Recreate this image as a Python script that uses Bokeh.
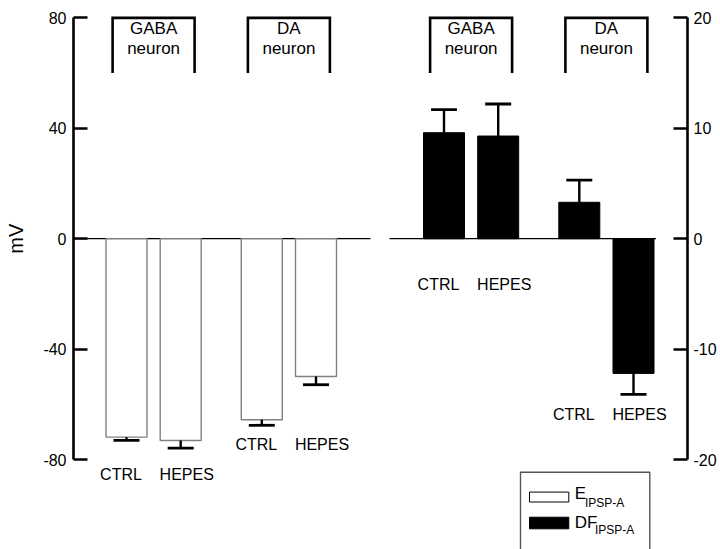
from bokeh.plotting import figure
from bokeh.layouts import row
from bokeh.models import Range1d, LinearAxis, FixedTicker, ColumnDataSource
from bokeh.core.properties import value
from bokeh.embed import file_html
from bokeh.resources import INLINE
import math

# ---------------- data ----------------
neurons = ["GABA", "DA"]
conditions = ["CTRL", "HEPES"]
# order: GABA CTRL, GABA HEPES, DA CTRL, DA HEPES
e_ipsp_mean = [-71.9, -73.1, -65.6, -49.9]      # mV (left axis)
e_ipsp_err = [1.2, 2.8, 2.0, 3.0]
df_ipsp_mean = [9.6, 9.3, 3.3, -12.2]           # mV (right axis)
df_ipsp_err = [2.1, 2.9, 2.0, 1.9]
left_ticks = [-80, -40, 0, 40, 80]
right_ticks = [-20, -10, 0, 10, 20]
legend_labels = [("E", "IPSP-A"), ("DF", "IPSP-A")]
y_title = "mV"

# ---------------- layout ----------------
FONT = value("Liberation Sans")
FRAME_W = 614
Y_LO, Y_HI = -112.6, 86.3
SCALE = 4.0                      # left units per right unit
TITLE_W = 40
panel_start = [53.0, 370.5]
group_step = 135.3
bar_step = 54.2
bar_w = 41
cap_w = 26
bracket_half = 41
label_y = [[-85.4, -74.7], [-16.7, -63.8]]   # per panel, per group (left units, text middle)

# narrow strip holding the y-axis title, sharing the mV scale
t = figure(width=TITLE_W, height=549, x_range=Range1d(0, TITLE_W), y_range=Range1d(Y_LO, Y_HI),
           output_backend="svg", toolbar_location=None, x_axis_type=None, y_axis_type=None,
           min_border=0)
t.outline_line_color = None
t.grid.visible = False
t.text(x=[15], y=[0], text=[y_title], angle=math.pi / 2, text_font=FONT, text_font_size="20px",
       text_align="center", text_baseline="middle", text_color="black")

p = figure(width=720 - TITLE_W, height=549, x_range=Range1d(0, FRAME_W), y_range=Range1d(Y_LO, Y_HI),
           output_backend="svg", toolbar_location=None, x_axis_type=None,
           min_border_left=73 - TITLE_W, min_border_right=33, min_border_top=0, min_border_bottom=0)
p.extra_y_ranges = {"right": Range1d(Y_LO / SCALE, Y_HI / SCALE)}
p.outline_line_color = None
p.grid.visible = False
p.background_fill_color = "white"
p.border_fill_color = "white"


def style_axis(ax, ticks):
    ax.ticker = FixedTicker(ticks=ticks)
    ax.bounds = (ticks[0], ticks[-1])
    ax.major_label_overrides = {float(tk): str(tk) for tk in ticks}
    ax.axis_line_width = 2.6
    ax.axis_line_color = "black"
    ax.major_tick_line_width = 2.6
    ax.major_tick_line_color = "black"
    ax.major_tick_in = 14
    ax.major_tick_out = 0
    ax.minor_tick_line_color = None
    ax.major_label_text_font = "Liberation Sans"
    ax.major_label_text_font_size = "16px"
    ax.major_label_text_color = "black"
    ax.major_label_standoff = 7


ly = p.yaxis[0]
style_axis(ly, left_ticks)

ry = LinearAxis(y_range_name="right")
style_axis(ry, right_ticks)
ry.major_label_standoff = 6
p.add_layout(ry, "right")

# bar positions
xs = []
for pi in range(2):
    for g in range(2):
        for c in range(2):
            xs.append(panel_start[pi] + g * group_step + c * bar_step)
left_x = xs[:4]
right_x = xs[4:]

# zero lines
p.segment(x0=[0, right_x[0] - bar_w / 2 - 34], x1=[left_x[3] + bar_w / 2 + 34, right_x[3] + bar_w / 2 + 2],
          y0=[0, 0], y1=[0, 0], line_color="black", line_width=1.2)

# left (E IPSP-A) white bars
src_e = ColumnDataSource(dict(x=left_x, top=[0] * 4, bottom=e_ipsp_mean))
p.vbar(x="x", top="top", bottom="bottom", width=bar_w, source=src_e,
       fill_color="white", line_color="#808080", line_width=1.4)
e_end = [m - e if m < 0 else m + e for m, e in zip(e_ipsp_mean, e_ipsp_err)]
p.segment(x0=left_x, x1=left_x, y0=e_ipsp_mean, y1=e_end, line_color="black", line_width=2.4)
p.segment(x0=[x - cap_w / 2 for x in left_x], x1=[x + cap_w / 2 for x in left_x],
          y0=e_end, y1=e_end, line_color="black", line_width=2.8)

# right (DF IPSP-A) black bars
src_d = ColumnDataSource(dict(x=right_x, top=[0] * 4, bottom=df_ipsp_mean))
p.vbar(x="x", top="top", bottom="bottom", width=bar_w, source=src_d, y_range_name="right",
       fill_color="black", line_color="black", line_width=1)
d_end = [m - e if m < 0 else m + e for m, e in zip(df_ipsp_mean, df_ipsp_err)]
p.segment(x0=right_x, x1=right_x, y0=df_ipsp_mean, y1=d_end, line_color="black", line_width=2.4,
          y_range_name="right")
p.segment(x0=[x - cap_w / 2 for x in right_x], x1=[x + cap_w / 2 for x in right_x],
          y0=d_end, y1=d_end, line_color="black", line_width=2.8, y_range_name="right")

# brackets + neuron labels
centers = [(xs[i] + xs[i + 1]) / 2 for i in range(0, 8, 2)]
p.multi_line(xs=[[c - bracket_half, c - bracket_half, c + bracket_half, c + bracket_half] for c in centers],
             ys=[[60, 80, 80, 60] for _ in centers], line_color="black", line_width=2.6,
             line_join="miter")
p.text(x=centers, y=[76.0] * 4, text=[neurons[i % 2] for i in range(4)], text_font=FONT,
       text_font_size="17px", text_align="center", text_baseline="middle", text_color="black")
p.text(x=centers, y=[69.0] * 4, text=["neuron"] * 4, text_font=FONT,
       text_font_size="17px", text_align="center", text_baseline="middle", text_color="black")

# condition labels
lx, ly_, lt = [], [], []
for pi in range(2):
    for g in range(2):
        for c in range(2):
            i = pi * 4 + g * 2 + c
            lx.append(xs[i] + (-5.5 if c == 0 else 6))
            ly_.append(label_y[pi][g])
            lt.append(conditions[c])
p.text(x=lx, y=ly_, text=lt, text_font=FONT, text_font_size="16px", text_align="center",
       text_baseline="middle", text_color="black")

# legend (drawn inside the frame)
p.quad(left=[447], right=[576.3], top=[-84.6], bottom=[-116], fill_color="white",
       line_color="#555555", line_width=1.4)
p.quad(left=[456, 456], right=[495.3, 495.3], top=[-91.8, -100.9], bottom=[-95.4, -105.1],
       fill_color=["white", "black"], line_color="black", line_width=1)
p.text(x=[501.3, 501.3], y=[-92.3, -102.8], text=[l[0] for l in legend_labels], text_font=FONT,
       text_font_size="17px", text_baseline="middle", text_color="black")
p.text(x=[511.5, 521.5], y=[-95.6, -105.4], text=[l[1] for l in legend_labels], text_font=FONT,
       text_font_size="12px", text_baseline="middle", text_color="black")

layout = row(t, p, spacing=0)
open("out.html", "w").write(file_html(layout, INLINE))
